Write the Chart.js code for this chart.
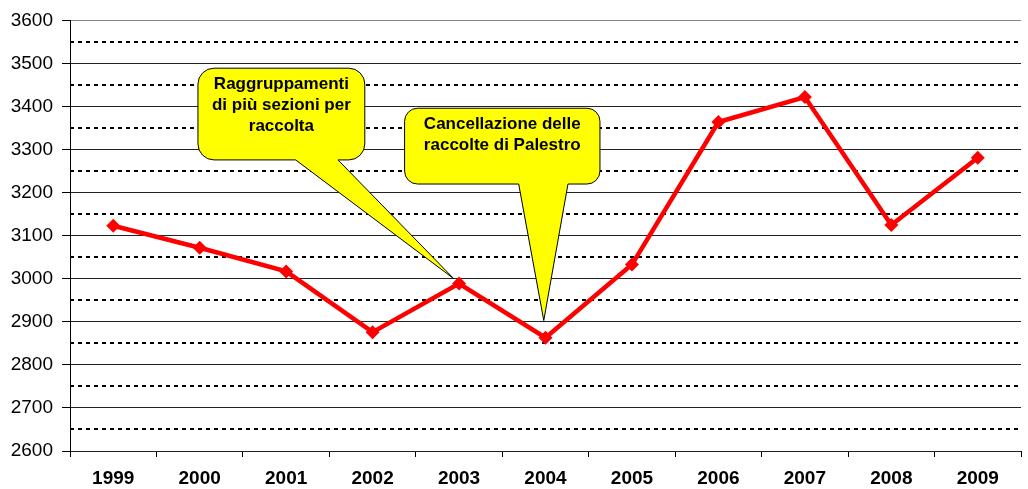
<!DOCTYPE html>
<html>
<head>
<meta charset="utf-8">
<script src="https://cdn.jsdelivr.net/npm/chart.js@4.4.0/dist/chart.umd.min.js"></script>
<style>
  html, body { margin: 0; padding: 0; background: #fff; }
  #wrap { width: 1028px; height: 489px; }
</style>
</head>
<body>
<div id="wrap"><canvas id="lineChart"></canvas></div>
<script>
    // data
  const years = ['1999', '2000', '2001', '2002', '2003', '2004', '2005', '2006', '2007', '2008', '2009'];
  const totals = [3123, 3072, 3017, 2876, 2989, 2863, 3033, 3364, 3422, 3125, 3281];
  const yTicksMajor = [2600, 2700, 2800, 2900, 3000, 3100, 3200, 3300, 3400, 3500, 3600];
  const yTicksMinor = [2650, 2750, 2850, 2950, 3050, 3150, 3250, 3350, 3450, 3550];
  const noteTexts = [
    ['Raggruppamenti', 'di più sezioni per', 'raccolta'],
    ['Cancellazione delle', 'raccolte di Palestro'],
  ];

    // callout shapes, in axis units (x = category index, y = value)
  const callouts = [
    { x0: 0.98, x1: 2.91, yTop: 3489, yBot: 3276, b0: 2.11, b1: 2.60, tipX: 3.94, tipY: 3000, r: 16 },
    { x0: 3.37, x1: 5.63, yTop: 3396, yBot: 3220, b0: 4.69, b1: 5.26, tipX: 4.98, tipY: 2903, r: 13 },
  ];

  const calloutPlugin = {
    id: 'callouts',
    afterDatasetsDraw(chart) {
      const ctx = chart.ctx;
      const xs = chart.scales.x, ys = chart.scales.y;
      callouts.forEach((c, i) => {
        const l = xs.getPixelForValue(c.x0), r = xs.getPixelForValue(c.x1);
        const t = ys.getPixelForValue(c.yTop), b = ys.getPixelForValue(c.yBot);
        const b0 = xs.getPixelForValue(c.b0), b1 = xs.getPixelForValue(c.b1);
        const tx = xs.getPixelForValue(c.tipX), ty = ys.getPixelForValue(c.tipY);
        const rad = c.r;
        ctx.save();
        ctx.beginPath();
        ctx.moveTo(l + rad, t);
        ctx.lineTo(r - rad, t);
        ctx.arcTo(r, t, r, t + rad, rad);
        ctx.lineTo(r, b - rad);
        ctx.arcTo(r, b, r - rad, b, rad);
        ctx.lineTo(b1, b);
        ctx.lineTo(tx, ty);
        ctx.lineTo(b0, b);
        ctx.lineTo(l + rad, b);
        ctx.arcTo(l, b, l, b - rad, rad);
        ctx.lineTo(l, t + rad);
        ctx.arcTo(l, t, l + rad, t, rad);
        ctx.closePath();
        ctx.fillStyle = '#ffff00';
        ctx.fill();
        ctx.strokeStyle = '#000';
        ctx.lineWidth = 1;
        ctx.stroke();

        ctx.fillStyle = '#000';
        ctx.font = 'bold 17px "Liberation Sans", Arial, sans-serif';
        ctx.textAlign = 'center';
        ctx.textBaseline = 'middle';
        noteTexts[i].forEach((line, k) => {
          ctx.fillText(line, (l + r) / 2, t + 16 + k * 21);
        });
        ctx.restore();
      });
    }
  };

  const chartData = {
    labels: years,
    datasets: [{
      data: totals,
      borderColor: '#ff0000',
      backgroundColor: '#ff0000',
      borderWidth: 4.5,
      pointStyle: 'rectRot',
      pointRadius: 7,
      pointBorderWidth: 0,
      tension: 0,
    }],
  };

  const chartOptions = {
    responsive: true,
    maintainAspectRatio: false,
    animation: false,
    layout: { padding: { top: 19, right: 1, left: 0, bottom: 0 } },
    plugins: {
      legend: { display: false },
      tooltip: { enabled: false },
    },
    scales: {
      x: {
        offset: true,
        grid: { offset: true, drawOnChartArea: false, drawTicks: true, tickLength: 6, tickColor: '#000' },
        border: { display: false },
        ticks: {
          color: '#000',
          padding: 10,
          maxRotation: 0,
          font: { family: '"Liberation Sans", Arial, sans-serif', size: 19, weight: 'bold' },
        },
        afterFit(scale) { scale.height = 38; },
      },
      y: {
        min: 2600,
        max: 3600,
        afterBuildTicks(scale) { scale.ticks = yTicksMajor.map(v => ({ value: v })); },
        grid: {
          color: ctx => (ctx.tick && ctx.tick.value === 3600 ? '#888' : '#222'),
          lineWidth: 1,
          tickLength: 8,
          tickColor: '#000',
        },
        border: { display: true, color: '#000', width: 1 },
        ticks: {
          color: '#000',
          padding: 9,
          callback: v => String(v),
          font: { family: '"Liberation Sans", Arial, sans-serif', size: 19 },
        },
        afterFit(scale) { scale.width = 70; },
      },
      yMinor: {
        position: 'left',
        min: 2600,
        max: 3600,
        afterBuildTicks(scale) { scale.ticks = yTicksMinor.map(v => ({ value: v })); },
        grid: { color: '#000', lineWidth: 2, drawTicks: false },
        border: { display: false, dash: [4, 4] },
        ticks: { display: false },
      },
    },
  };

  const lineChart = new Chart(
    document.getElementById('lineChart'),
    { type: 'line', data: chartData, options: chartOptions, plugins: [calloutPlugin] }
  );
</script>
</body>
</html>
